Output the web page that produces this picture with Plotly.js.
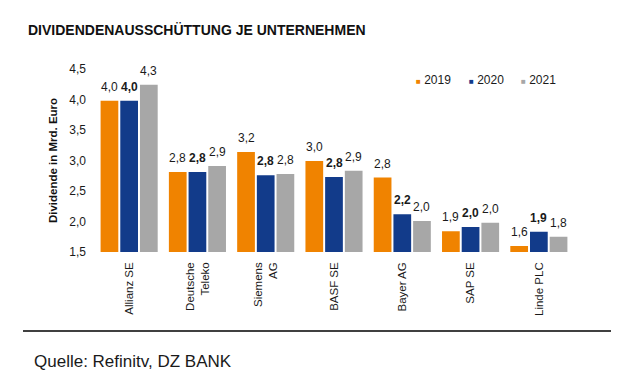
<!DOCTYPE html>
<html>
<head>
<meta charset="utf-8">
<script src="https://cdn.plot.ly/plotly-3.0.1.min.js"></script>
<style>html,body{margin:0;padding:0;background:#fff;}#chart{width:630px;height:375px;}</style>
</head>
<body>
<div id="chart"></div>
<script>
const categories = ['Allianz SE', 'Deutsche<br>Teleko', 'Siemens<br>AG', 'BASF SE', 'Bayer AG', 'SAP SE', 'Linde PLC'];
const years = ['2019', '2020', '2021'];
const values2019 = [3.98, 2.81, 3.14, 2.99, 2.72, 1.84, 1.60];
const values2020 = [3.98, 2.81, 2.76, 2.73, 2.12, 1.91, 1.83];
const values2021 = [4.24, 2.91, 2.78, 2.83, 2.01, 1.98, 1.75];
const labels2019 = [4.0, 2.8, 3.2, 3.0, 2.8, 1.9, 1.6];
const labels2020 = [4.0, 2.8, 2.8, 2.8, 2.2, 2.0, 1.9];
const labels2021 = [4.3, 2.9, 2.8, 2.9, 2.0, 2.0, 1.8];
const yTicks = [1.5, 2.0, 2.5, 3.0, 3.5, 4.0, 4.5];
const colors = ['#F08300', '#123B8A', '#A7A7A7'];

const FONT = 'Liberation Sans, Arial, sans-serif';
const W = 630, H = 375;
const margin = {l: 95, r: 57, t: 69, b: 123};
const bargap = 0.135;
const seriesVals = [values2019, values2020, values2021];
const seriesLabels = [labels2019, labels2020, labels2021];
const plotW = W - margin.l - margin.r;
const plotH = H - margin.t - margin.b;
const px2x = p => (p - margin.l) / plotW;
const px2y = p => (H - margin.b - p) / plotH;

const traces = seriesVals.map((vals, i) => ({
  type: 'bar', x: categories, y: vals, name: years[i],
  marker: {color: colors[i]}, showlegend: false, hoverinfo: 'skip'
}));

// value labels above bars
const slot = (plotW / categories.length) * (1 - bargap) / 3;
const annotations = [];
seriesLabels.forEach((labs, i) => {
  labs.forEach((v, j) => {
    const t = v.toFixed(1).replace('.', ',');
    annotations.push({
      x: categories[j], y: seriesVals[i][j], xref: 'x', yref: 'y',
      text: i === 1 ? '<b>' + t + '</b>' : t,
      showarrow: false, xanchor: 'center', yanchor: 'bottom',
      xshift: (i - 1) * slot, yshift: 5,
      font: {family: FONT, size: 12, color: '#1a1a1a'}
    });
  });
});
// legend (square swatch + year)
const legendX = [414, 467, 519];
years.forEach((yr, i) => {
  annotations.push({
    xref: 'paper', yref: 'paper', x: px2x(legendX[i]), y: px2y(80),
    xanchor: 'left', yanchor: 'middle', showarrow: false,
    text: '<span style="color:' + colors[i] + ';font-size:8px">■</span> ' + yr,
    font: {family: FONT, size: 12, color: '#1a1a1a'}
  });
});
annotations.push({
  text: 'Quelle: Refinitv, DZ BANK', xref: 'paper', yref: 'paper',
  x: px2x(32), y: px2y(361),
  xanchor: 'left', yanchor: 'middle', showarrow: false,
  font: {family: FONT, size: 17, color: '#1a1a1a'}
});

const layout = {
  width: W, height: H, margin: margin,
  paper_bgcolor: '#fff', plot_bgcolor: '#fff',
  separators: ',.',
  showlegend: false,
  font: {family: FONT, size: 12, color: '#1a1a1a'},
  title: {
    text: '<b>DIVIDENDENAUSSCHÜTTUNG JE UNTERNEHMEN</b>',
    x: 28 / W, xanchor: 'left', xref: 'container',
    y: 1 - 30.5 / H, yanchor: 'middle', yref: 'container',
    font: {family: FONT, size: 14, color: '#111'}
  },
  barmode: 'group', bargap: bargap, bargroupgap: 0.1,
  xaxis: {
    type: 'category', tickangle: -90, showgrid: false, showline: false, zeroline: false,
    ticks: '', ticklabelstandoff: 7,
    tickfont: {family: FONT, size: 11.5, color: '#1a1a1a'}
  },
  yaxis: {
    range: [1.5, 4.5], tickvals: yTicks, tickformat: '.1f',
    showgrid: false, showline: false, zeroline: false, ticks: '', ticklabelstandoff: 8,
    tickfont: {family: FONT, size: 12, color: '#1a1a1a'},
    title: {text: '<b>Dividende in Mrd. Euro</b>', font: {family: FONT, size: 11.5, color: '#111'}, standoff: 9}
  },
  shapes: [{
    type: 'line', xref: 'paper', yref: 'paper',
    x0: px2x(23), x1: px2x(611), y0: px2y(331), y1: px2y(331),
    line: {color: '#000', width: 1.5}
  }],
  annotations: annotations
};

Plotly.newPlot('chart', traces, layout, {displayModeBar: false, staticPlot: true});
</script>
</body>
</html>
